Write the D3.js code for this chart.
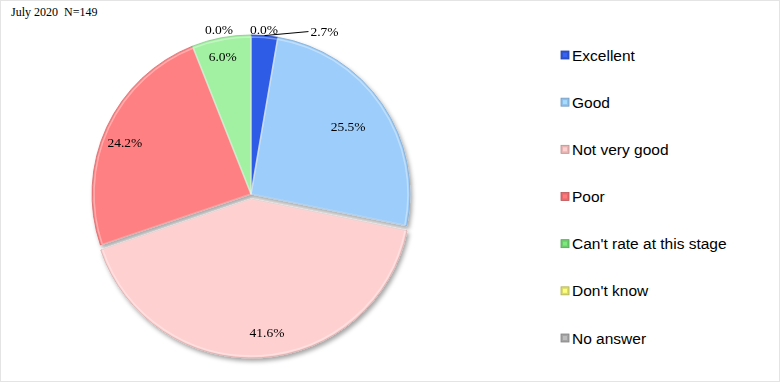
<!DOCTYPE html>
<html>
<head>
<meta charset="utf-8">
<script src="https://cdn.jsdelivr.net/npm/d3@7"></script>
<style>
  html, body { margin: 0; padding: 0; background: #fff; }
  svg { display: block; }
</style>
</head>
<body>
<svg id="chart" width="780" height="382"></svg>
<script>
// ---- data ----
const title = "July 2020  N=149";
const categories = ["Excellent", "Good", "Not very good", "Poor", "Can't rate at this stage", "Don't know", "No answer"];
const values = [2.7, 25.5, 41.6, 24.2, 6.0, 0.0, 0.0];
const labels = ["2.7%", "25.5%", "41.6%", "24.2%", "6.0%", "0.0%", "0.0%"];

// ---- styles / layout ----
const sliceColors = ["#2E5CE6", "#9DCDFB", "#FFD0D0", "#FF8082", "#A2F0A2", "#F0F090", "#B0B0B0"];
const legendColors = ["#2F55D4", "#8FC0EC", "#E8B4B4", "#E86A6C", "#6CCB6C", "#DCDC6C", "#A4A4A4"];
const explode = [0, 0, 5, 0, 0, 0, 0];
const labelRadiusFrac = [null, 0.74, 0.87, 0.86, 0.88, null, null];
const labelNudge = [[0, 0], [0, -1], [7, -5], [-2, 6], [-2, 0], [-32, 0], [13, 0]];

const svg = d3.select("#chart");
const W = 780, H = 382;
const cx = 251, cy = 194, r = 159;

svg.append("rect").attr("x", 0.5).attr("y", 0.5).attr("width", W - 1).attr("height", H - 1)
  .attr("fill", "#fff").attr("stroke", "#E4E4E4").attr("stroke-width", 1);

const defs = svg.append("defs");
const f = defs.append("filter").attr("id", "shadow")
  .attr("x", "-20%").attr("y", "-20%").attr("width", "140%").attr("height", "140%");
f.append("feDropShadow").attr("dx", 2).attr("dy", 3).attr("stdDeviation", 2)
  .attr("flood-color", "#000").attr("flood-opacity", 0.35);

// title
svg.append("text").attr("x", 11).attr("y", 16)
  .attr("font-family", "Liberation Serif, Times New Roman, serif")
  .attr("font-size", 12).attr("fill", "#000")
  .attr("xml:space", "preserve")
  .style("white-space", "pre")
  .text(title);

const pie = d3.pie().sort(null).value(d => d).startAngle(0).endAngle(2 * Math.PI);
const arcs = pie(values);
const arc = d3.arc().innerRadius(0).outerRadius(r);

const g = svg.append("g").attr("transform", `translate(${cx},${cy})`);
const sg = g.append("g").attr("filter", "url(#shadow)");

function offset(d, i) {
  const a = (d.startAngle + d.endAngle) / 2;
  return [Math.sin(a) * explode[i], -Math.cos(a) * explode[i]];
}

sg.selectAll("path").data(arcs.filter(d => d.value > 0)).enter().append("path")
  .attr("d", arc)
  .attr("transform", (d) => { const o = offset(d, d.index); return `translate(${o[0]},${o[1]})`; })
  .attr("fill", d => sliceColors[d.index])
  .attr("stroke", d => d3.color(sliceColors[d.index]).darker(0.5))
  .attr("stroke-width", 0.8)
  .attr("stroke-linejoin", "round");

// inner highlight (soft bevel)
const innerArc = d3.arc().innerRadius(0).outerRadius(r - 2);
g.append("g").selectAll("path").data(arcs.filter(d => d.value > 0)).enter().append("path")
  .attr("d", innerArc)
  .attr("transform", (d) => { const o = offset(d, d.index); return `translate(${o[0]},${o[1]})`; })
  .attr("fill", "none")
  .attr("stroke", "#fff")
  .attr("stroke-opacity", 0.35)
  .attr("stroke-width", 1.5);

// labels
const labelFont = "Liberation Serif, Times New Roman, serif";
const labelSize = 13.5;
arcs.forEach((d, i) => {
  const a = (d.startAngle + d.endAngle) / 2;
  const o = offset(d, i);
  const n = labelNudge[i];
  if (labelRadiusFrac[i] !== null) {
    const lr = r * labelRadiusFrac[i];
    g.append("text")
      .attr("x", Math.sin(a) * lr + o[0] + n[0])
      .attr("y", -Math.cos(a) * lr + o[1] + n[1])
      .attr("dy", "0.35em")
      .attr("text-anchor", "middle")
      .attr("font-family", labelFont).attr("font-size", labelSize).attr("fill", "#000")
      .text(labels[i]);
  } else if (d.value > 0) {
    // outside label with leader line
    const px = Math.sin(a) * r, py = -Math.cos(a) * r;
    const ex = px + 44, ey = py - 4;
    g.append("line").attr("x1", px).attr("y1", py).attr("x2", ex).attr("y2", ey)
      .attr("stroke", "#000").attr("stroke-width", 1);
    g.append("text").attr("x", ex + 2).attr("y", ey)
      .attr("dy", "0.35em")
      .attr("font-family", labelFont).attr("font-size", labelSize).attr("fill", "#000")
      .text(labels[i]);
  } else {
    const lr = r + 6;
    g.append("text")
      .attr("x", Math.sin(a) * lr + n[0])
      .attr("y", -Math.cos(a) * lr + n[1])
      .attr("dy", "0.35em")
      .attr("text-anchor", "middle")
      .attr("font-family", labelFont).attr("font-size", labelSize).attr("fill", "#000")
      .text(labels[i]);
  }
});

// legend
const ly = d3.scalePoint().domain(categories).range([55, 338]);
const lg = svg.append("g");
const items = lg.selectAll("g").data(categories).enter().append("g")
  .attr("transform", d => `translate(561,${ly(d)})`);
items.append("rect").attr("x", 0).attr("y", -4).attr("width", 8).attr("height", 8)
  .attr("fill", (d, i) => legendColors[i])
  .attr("stroke", (d, i) => d3.color(legendColors[i]).darker(0.6))
  .attr("stroke-width", 0.8);
items.append("rect").attr("x", 2).attr("y", -2).attr("width", 4).attr("height", 4)
  .attr("fill", (d, i) => d3.color(legendColors[i]).brighter(0.4));
items.append("text").attr("x", 11).attr("y", 0).attr("dy", "0.36em")
  .attr("font-family", "Liberation Sans, Arial, sans-serif")
  .attr("font-size", 15.5).attr("fill", "#000")
  .text(d => d);
</script>
</body>
</html>
